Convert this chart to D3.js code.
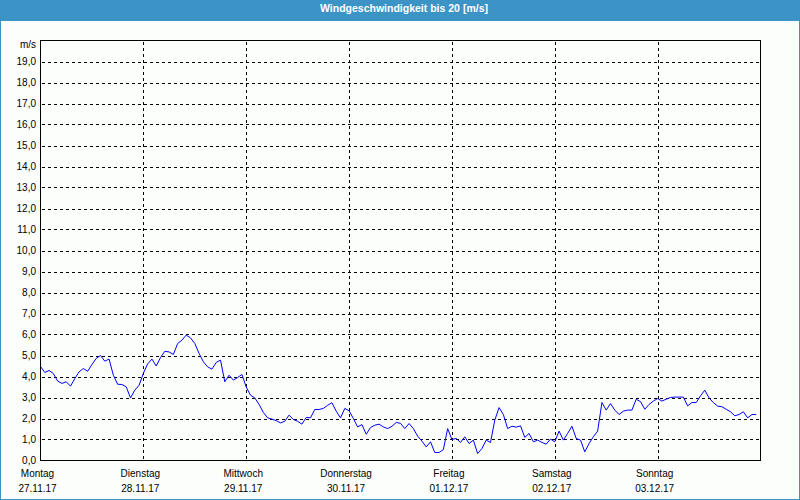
<!DOCTYPE html>
<html>
<head>
<meta charset="utf-8">
<script src="https://cdn.jsdelivr.net/npm/d3@7"></script>
<style>
  html, body { margin: 0; padding: 0; background: #fcfefc; }
  svg { display: block; }
  text { font-family: "Liberation Sans", Arial, sans-serif; }
</style>
</head>
<body>
<svg id="chart" width="800" height="500"></svg>
<script>
const title = "Windgeschwindigkeit bis 20 [m/s]";
const unitLabel = "m/s";
const dayNames = ["Montag", "Dienstag", "Mittwoch", "Donnerstag", "Freitag", "Samstag", "Sonntag"];
const dayDates = ["27.11.17", "28.11.17", "29.11.17", "30.11.17", "01.12.17", "02.12.17", "03.12.17"];
const yTicks = d3.range(0, 20, 1);
// hourly wind speed values (m/s), Monday 00:00 onward
const windSpeed = [
  4.48, 4.19, 4.29, 4.14, 3.78, 3.67, 3.75, 3.54, 3.90, 4.22, 4.38, 4.25,
  4.57, 4.86, 5.00, 4.73, 4.83, 4.06, 3.63, 3.62, 3.51, 2.98, 3.35, 3.58,
  4.15, 4.60, 4.83, 4.50, 4.90, 5.20, 5.17, 5.05, 5.57, 5.73, 5.97, 5.84,
  5.57, 5.10, 4.70, 4.46, 4.35, 4.67, 4.78, 3.75, 4.06, 3.83, 3.95, 4.10,
  3.50, 3.11, 2.98, 2.67, 2.29, 2.03, 1.97, 1.90, 1.79, 1.87, 2.16, 1.95,
  1.87, 1.73, 2.05, 2.03, 2.43, 2.43, 2.48, 2.63, 2.75, 2.35, 2.03, 2.48,
  2.37, 2.00, 1.60, 1.71, 1.25, 1.57, 1.68, 1.73, 1.60, 1.52, 1.63, 1.81,
  1.77, 1.52, 1.76, 1.52, 1.16, 0.92, 0.65, 0.89, 0.38, 0.38, 0.52, 1.52,
  1.00, 1.05, 0.86, 1.13, 0.81, 0.97, 0.33, 0.57, 0.97, 0.86, 1.92, 2.52,
  2.19, 1.52, 1.63, 1.59, 1.65, 1.10, 1.29, 0.89, 0.97, 0.86, 0.78, 1.02,
  0.89, 1.40, 0.97, 1.29, 1.63, 1.05, 0.97, 0.41, 0.81, 1.13, 1.40, 2.76,
  2.40, 2.71, 2.40, 2.19, 2.35, 2.40, 2.40, 2.92, 2.80, 2.44, 2.67, 2.83,
  2.95, 2.83, 2.92, 3.00, 3.02, 3.02, 3.02, 2.60, 2.76, 2.76, 3.08, 3.35,
  2.98, 2.76, 2.59, 2.56, 2.44, 2.32, 2.13, 2.19, 2.32, 2.03, 2.19, 2.19
];

const W = 800, H = 500;
const plot = { left: 40.5, right: 760.5, top: 40.5, bottom: 460.5 };
const svg = d3.select("#chart");

const x = d3.scaleLinear().domain([0, dayNames.length * 24]).range([plot.left, plot.right]);
const y = d3.scaleLinear().domain([0, 20]).range([plot.bottom, plot.top]);

// background
svg.append("rect").attr("x", 0).attr("y", 0).attr("width", W).attr("height", H).attr("fill", "#fcfefc");
// title bar
svg.append("rect").attr("x", 0).attr("y", 0).attr("width", W).attr("height", 21).attr("fill", "#3c93c6");
svg.append("text").attr("x", 404).attr("y", 12)
  .attr("text-anchor", "middle").attr("fill", "#ffffff")
  .attr("font-size", "10.5px").attr("font-weight", "bold")
  .text(title);
// outer frame
svg.append("rect").attr("x", 0.5).attr("y", 0.5).attr("width", W - 1).attr("height", H - 1)
  .attr("fill", "none").attr("stroke", "#3c93c6").attr("stroke-width", 1);

// horizontal grid lines
const gy = svg.append("g");
gy.selectAll("line").data(yTicks.filter(d => d > 0)).join("line")
  .attr("x1", plot.left + 1).attr("x2", plot.right)
  .attr("y1", d => Math.round(y(d)) + 0.5).attr("y2", d => Math.round(y(d)) + 0.5)
  .attr("stroke", "#000").attr("stroke-dasharray", "3,3").attr("shape-rendering", "crispEdges");

// vertical grid lines (day boundaries)
const dayIdx = d3.range(1, dayNames.length);
svg.append("g").selectAll("line").data(dayIdx).join("line")
  .attr("x1", d => Math.round(x(d * 24)) + 0.5).attr("x2", d => Math.round(x(d * 24)) + 0.5)
  .attr("y1", plot.top + 1).attr("y2", plot.bottom)
  .attr("stroke", "#000").attr("stroke-dasharray", "3,3").attr("shape-rendering", "crispEdges");

// y axis labels
const yAxis = d3.axisLeft(y).tickValues(yTicks).tickSize(0).tickPadding(4)
  .tickFormat(d => d3.format(".1f")(d).replace(".", ","));
const ya = svg.append("g").attr("transform", `translate(${plot.left - 0.5},0)`).call(yAxis);
ya.select(".domain").remove();
ya.selectAll("text").attr("font-size", "10px").attr("fill", "#000").attr("font-family", "Liberation Sans, Arial, sans-serif");

svg.append("text").attr("x", 36).attr("y", 48).attr("text-anchor", "end")
  .attr("font-size", "10px").attr("fill", "#000").text(unitLabel);

// x labels
const xl = svg.append("g");
xl.selectAll("text.day").data(dayNames).join("text").attr("class", "day")
  .attr("x", (d, i) => x(i * 24) - 3).attr("y", 477)
  .attr("text-anchor", "middle").attr("font-size", "10px").attr("fill", "#000").text(d => d);
xl.selectAll("text.date").data(dayDates).join("text").attr("class", "date")
  .attr("x", (d, i) => x(i * 24) - 3).attr("y", 492)
  .attr("text-anchor", "middle").attr("font-size", "10px").attr("fill", "#000").text(d => d);

// data line
const line = d3.line().x((d, i) => x(i)).y(d => y(d));
svg.append("path").datum(windSpeed).attr("d", line)
  .attr("fill", "none").attr("stroke", "#0000ff").attr("stroke-width", 1);

// plot frame
svg.append("rect").attr("x", plot.left).attr("y", plot.top)
  .attr("width", plot.right - plot.left).attr("height", plot.bottom - plot.top)
  .attr("fill", "none").attr("stroke", "#000").attr("stroke-width", 1).attr("shape-rendering", "crispEdges");
</script>
</body>
</html>
